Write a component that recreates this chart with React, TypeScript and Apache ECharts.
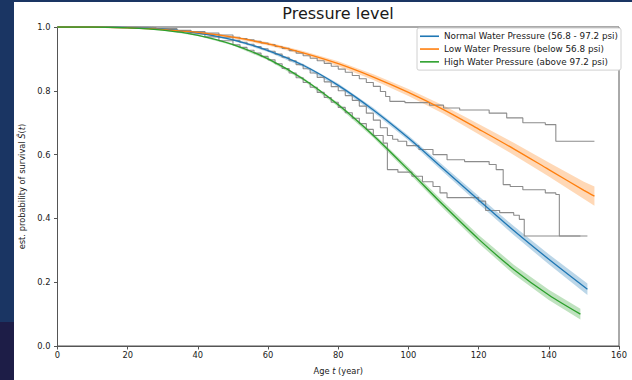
import React, { useEffect, useRef } from "react";
import * as echarts from "echarts";

const NAME_NORMAL = "Normal Water Pressure (56.8 - 97.2 psi)";
const NAME_LOW = "Low Water Pressure (below 56.8 psi)";
const NAME_HIGH = "High Water Pressure (above 97.2 psi)";

// Fitted parametric survival curves
const normalAges = [0, 10, 20, 30, 40, 50, 60, 70, 80, 90, 100, 110, 120, 130, 140, 151];
const normalSurv = [1.0, 1.0, 0.998, 0.993, 0.981, 0.96, 0.926, 0.88, 0.817, 0.74, 0.652, 0.555, 0.458, 0.362, 0.272, 0.178];
const normalCI = [0, 0, 0, 0.001, 0.002, 0.003, 0.004, 0.005, 0.006, 0.007, 0.008, 0.01, 0.012, 0.014, 0.016, 0.018];

const lowAges = [0, 10, 20, 30, 40, 50, 60, 70, 80, 90, 100, 110, 120, 130, 140, 150, 153];
const lowSurv = [1.0, 1.0, 0.997, 0.992, 0.983, 0.968, 0.947, 0.919, 0.885, 0.843, 0.795, 0.741, 0.68, 0.618, 0.553, 0.488, 0.47];
const lowCI = [0, 0, 0.001, 0.002, 0.003, 0.004, 0.005, 0.006, 0.008, 0.009, 0.011, 0.013, 0.016, 0.019, 0.022, 0.027, 0.03];

const highAges = [0, 10, 20, 30, 40, 50, 60, 70, 80, 90, 100, 110, 120, 130, 140, 149];
const highSurv = [1.0, 1.0, 0.997, 0.99, 0.974, 0.945, 0.9, 0.837, 0.756, 0.66, 0.552, 0.441, 0.335, 0.24, 0.16, 0.1];
const highCI = [0, 0, 0, 0.001, 0.002, 0.003, 0.004, 0.005, 0.006, 0.007, 0.009, 0.011, 0.013, 0.015, 0.016, 0.017];

// Kaplan-Meier step curves (grey)
const normalKmAges = [0, 20, 28, 34, 38, 42, 46, 50, 52, 54, 56, 58, 60, 62, 64, 66, 68, 70, 72, 74, 76, 78, 80, 82, 84, 86, 88, 90, 92, 94, 95.5, 97, 99.5, 103, 107, 111, 116, 123, 125, 127, 129, 132.6, 139, 142, 143, 151];
const normalKmSurv = [1.0, 0.998, 0.994, 0.989, 0.984, 0.977, 0.968, 0.958, 0.952, 0.946, 0.939, 0.932, 0.924, 0.915, 0.905, 0.894, 0.882, 0.869, 0.856, 0.842, 0.828, 0.813, 0.8, 0.785, 0.77, 0.752, 0.73, 0.708, 0.684, 0.66, 0.648, 0.642, 0.628, 0.616, 0.6, 0.584, 0.578, 0.569, 0.553, 0.506, 0.5, 0.49, 0.48, 0.475, 0.345, 0.345];

const lowKmAges = [0, 20, 28, 34, 38, 42, 46, 50, 52, 54, 56, 58, 60, 62, 64, 66, 68, 70, 72, 74, 76, 78, 80, 82, 84, 86, 88, 90, 92, 93.5, 94.7, 99, 106, 110, 114.6, 123, 128, 132.6, 139, 142, 153];
const lowKmSurv = [1.0, 0.998, 0.995, 0.99, 0.986, 0.981, 0.975, 0.968, 0.964, 0.96, 0.955, 0.95, 0.945, 0.939, 0.933, 0.926, 0.918, 0.91, 0.902, 0.894, 0.886, 0.877, 0.868, 0.858, 0.848, 0.838, 0.826, 0.814, 0.798, 0.782, 0.767, 0.763, 0.755, 0.746, 0.74, 0.73, 0.715, 0.7, 0.694, 0.642, 0.642];

const highKmAges = [0, 20, 28, 34, 38, 42, 46, 50, 52, 54, 56, 58, 60, 62, 64, 66, 68, 70, 72, 74, 76, 78, 80, 82, 84, 86, 88, 90, 92.8, 94, 97, 101, 104, 107, 109, 111, 120, 122, 126, 130, 131.6, 133, 149];
const highKmSurv = [1.0, 0.998, 0.993, 0.985, 0.978, 0.969, 0.957, 0.944, 0.936, 0.927, 0.918, 0.908, 0.897, 0.885, 0.87, 0.856, 0.841, 0.826, 0.811, 0.795, 0.779, 0.764, 0.748, 0.731, 0.714, 0.697, 0.679, 0.66, 0.636, 0.553, 0.545, 0.532, 0.515, 0.5, 0.48, 0.465, 0.454, 0.425, 0.418, 0.41, 0.397, 0.345, 0.345];

const xTicks = [0, 20, 40, 60, 80, 100, 120, 140, 160];
const yTicks = [0.0, 0.2, 0.4, 0.6, 0.8, 1.0];

const BLUE = "#1f77b4";
const ORANGE = "#ff7f0e";
const GREEN = "#2ca02c";
const FONT = "DejaVu Sans";
const TXT = "#1a1a1a";
const AXIS = "#555";

function pairs(ages: number[], vals: number[]) {
  return ages.map((t, i) => [t, vals[i]]);
}

function band(name: string, ages: number[], surv: number[], ci: number[], color: string) {
  return {
    type: "custom",
    name,
    silent: true,
    z: 1,
    data: [[ages[0], surv[0]]],
    renderItem: (_p: any, api: any) => {
      const up = ages.map((t, i) => api.coord([t, Math.min(1, surv[i] + ci[i])]));
      const lo = ages.map((t, i) => api.coord([t, surv[i] - ci[i]])).reverse();
      return {
        type: "polygon",
        shape: { points: up.concat(lo) },
        style: { fill: color, opacity: 0.3 },
      };
    },
  };
}

function km(name: string, ages: number[], vals: number[]) {
  return {
    type: "line",
    name,
    step: "end",
    showSymbol: false,
    silent: true,
    z: 2,
    data: pairs(ages, vals),
    lineStyle: { color: "#8c8c8c", width: 1.1 },
    itemStyle: { color: "#8c8c8c" },
  };
}

function main(name: string, ages: number[], vals: number[], color: string) {
  return {
    type: "line",
    name,
    smooth: 0.3,
    showSymbol: false,
    silent: true,
    z: 3,
    data: pairs(ages, vals),
    lineStyle: { color, width: 1.3 },
    itemStyle: { color },
  };
}

export default function App() {
  const ref = useRef<HTMLDivElement>(null);
  useEffect(() => {
    if (!ref.current) return;
    const chart = echarts.init(ref.current, undefined, { renderer: "svg" });
    chart.setOption({
      animation: false,
      backgroundColor: "transparent",
      title: {
        text: "Pressure level",
        left: 338,
        top: 5,
        textAlign: "center",
        padding: 0,
        textStyle: { fontFamily: FONT, fontSize: 16, fontWeight: "normal", color: TXT },
      },
      legend: {
        data: [NAME_NORMAL, NAME_LOW, NAME_HIGH],
        orient: "vertical",
        right: 11,
        top: 28,
        align: "left",
        icon: "rect",
        itemWidth: 19,
        itemHeight: 1.6,
        itemGap: 2.3,
        padding: [3, 3, 3, 3],
        borderColor: "#d0d0d0",
        borderWidth: 1,
        borderRadius: 2,
        backgroundColor: "#fff",
        textStyle: { fontFamily: FONT, fontSize: 8.8, color: TXT, lineHeight: 10.5 },
      },
      grid: {
        left: 57.5,
        right: 13,
        top: 27,
        bottom: 33,
        show: true,
        borderColor: AXIS,
        borderWidth: 1,
        backgroundColor: "transparent",
      },
      xAxis: {
        type: "value",
        min: xTicks[0],
        max: xTicks[xTicks.length - 1],
        interval: 20,
        name: "Age {i|t} (year)",
        nameLocation: "middle",
        nameGap: 21,
        nameTextStyle: {
          fontFamily: FONT,
          fontSize: 8.3,
          color: TXT,
          rich: { i: { fontFamily: FONT, fontSize: 8.3, fontStyle: "italic", color: TXT } },
        },
        axisLine: { show: true, lineStyle: { color: AXIS, width: 1 } },
        axisTick: { show: true, length: 3.5, lineStyle: { color: AXIS } },
        axisLabel: { fontFamily: FONT, fontSize: 8.3, color: TXT, margin: 4.5 },
        splitLine: { show: false },
      },
      yAxis: {
        type: "value",
        min: yTicks[0],
        max: yTicks[yTicks.length - 1],
        interval: 0.2,
        name: "est. probability of survival {i|Ŝ}({i|t})",
        nameLocation: "middle",
        nameGap: 20,
        nameTextStyle: {
          fontFamily: FONT,
          fontSize: 8.3,
          color: TXT,
          rich: { i: { fontFamily: FONT, fontSize: 8.3, fontStyle: "italic", color: TXT } },
        },
        axisLine: { show: true, lineStyle: { color: AXIS, width: 1 } },
        axisTick: { show: true, length: 3.5, lineStyle: { color: AXIS } },
        axisLabel: {
          fontFamily: FONT,
          fontSize: 8.3,
          color: TXT,
          margin: 7,
          formatter: (v: number) => v.toFixed(1),
        },
        splitLine: { show: false },
      },
      series: [
        band("normal-ci", normalAges, normalSurv, normalCI, BLUE),
        band("low-ci", lowAges, lowSurv, lowCI, ORANGE),
        band("high-ci", highAges, highSurv, highCI, GREEN),
        km("normal-km", normalKmAges, normalKmSurv),
        km("low-km", lowKmAges, lowKmSurv),
        km("high-km", highKmAges, highKmSurv),
        main(NAME_NORMAL, normalAges, normalSurv, BLUE),
        main(NAME_LOW, lowAges, lowSurv, ORANGE),
        main(NAME_HIGH, highAges, highSurv, GREEN),
      ],
    });
    return () => chart.dispose();
  }, []);

  return (
    <div style={{ position: "fixed", left: 0, top: 0, width: 632, height: 380, background: "#1a3563", overflow: "hidden" }}>
      <div style={{ position: "absolute", left: 0, top: 322, width: 14, height: 58, background: "#1d1d47" }} />
      <div style={{ position: "absolute", left: 14, top: 2, width: 618, height: 378, background: "#ffffff" }} />
      <div ref={ref} style={{ position: "absolute", left: 0, top: 0, width: 632, height: 380 }} />
    </div>
  );
}
